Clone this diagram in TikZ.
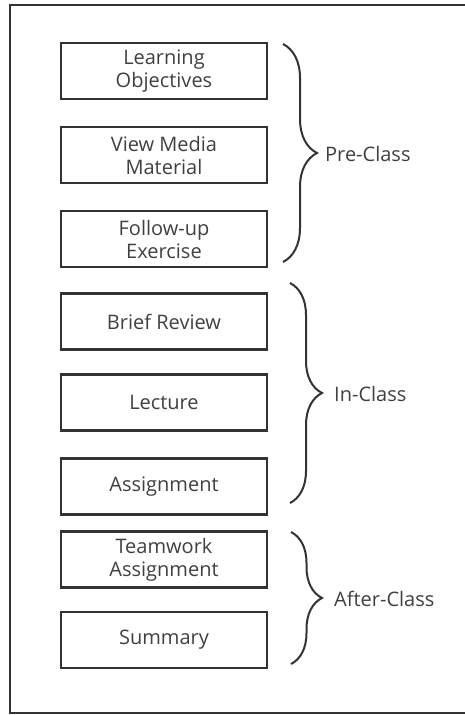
\documentclass[tikz,border=0pt]{standalone}
\usepackage{fontspec}
\setmainfont{Open Sans}
\usetikzlibrary{positioning,decorations.pathreplacing}
\definecolor{lineg}{HTML}{333333}
\definecolor{textg}{HTML}{404040}
\tikzset{
    stage/.style={draw=lineg,line width=2.2pt,minimum width=206pt,minimum height=56pt,
        inner sep=0pt,align=center,text=textg,font=\fontsize{20}{23}\selectfont},
    phase/.style={decorate,decoration={brace,amplitude=34pt,aspect=0.5},draw=lineg,line width=2pt},
    phaselabel/.style={anchor=west,text=textg,font=\fontsize{20}{23}\selectfont,inner sep=0pt},
}
\begin{document}
\begin{tikzpicture}[x=1pt,y=-1pt]
    \useasboundingbox (0,0) rectangle (464,715);
    \draw[lineg,line width=2.4pt] (10,5) rectangle (480,713);

    % pre-class
    \node[stage] (obj) at (164,71) {Learning\\Objectives};
    \node[stage] (media) at (164,155) {View Media\\Material};
    \node[stage] (exer) at (164,239) {Follow-up\\Exercise};
    % in-class
    \node[stage] (review) at (164,321.5) {Brief Review};
    \node[stage] (lect) at (164,402.5) {Lecture};
    \node[stage] (assign) at (164,486.5) {Assignment};
    % after-class
    \node[stage] (team) at (164,559.5) {Teamwork\\Assignment};
    \node[stage] (summ) at (164,640) {Summary};

    \coordinate (pre1) at (283,44);
    \coordinate (pre2) at (283,262);
    \coordinate (in1) at (290,283);
    \coordinate (in2) at (290,503);
    \coordinate (post1) at (291,532);
    \coordinate (post2) at (291,664);

    \draw[phase] (pre1) -- (pre2);
    \draw[phase,decoration={amplitude=32pt}] (in1) -- (in2);
    \draw[phase,decoration={amplitude=31pt}] (post1) -- (post2);

    \node[phaselabel] (pre) at (325,154) {Pre-Class};
    \node[phaselabel] (in) at (334,394) {In-Class};
    \node[phaselabel] (post) at (334,599) {After-Class};
\end{tikzpicture}
\end{document}
